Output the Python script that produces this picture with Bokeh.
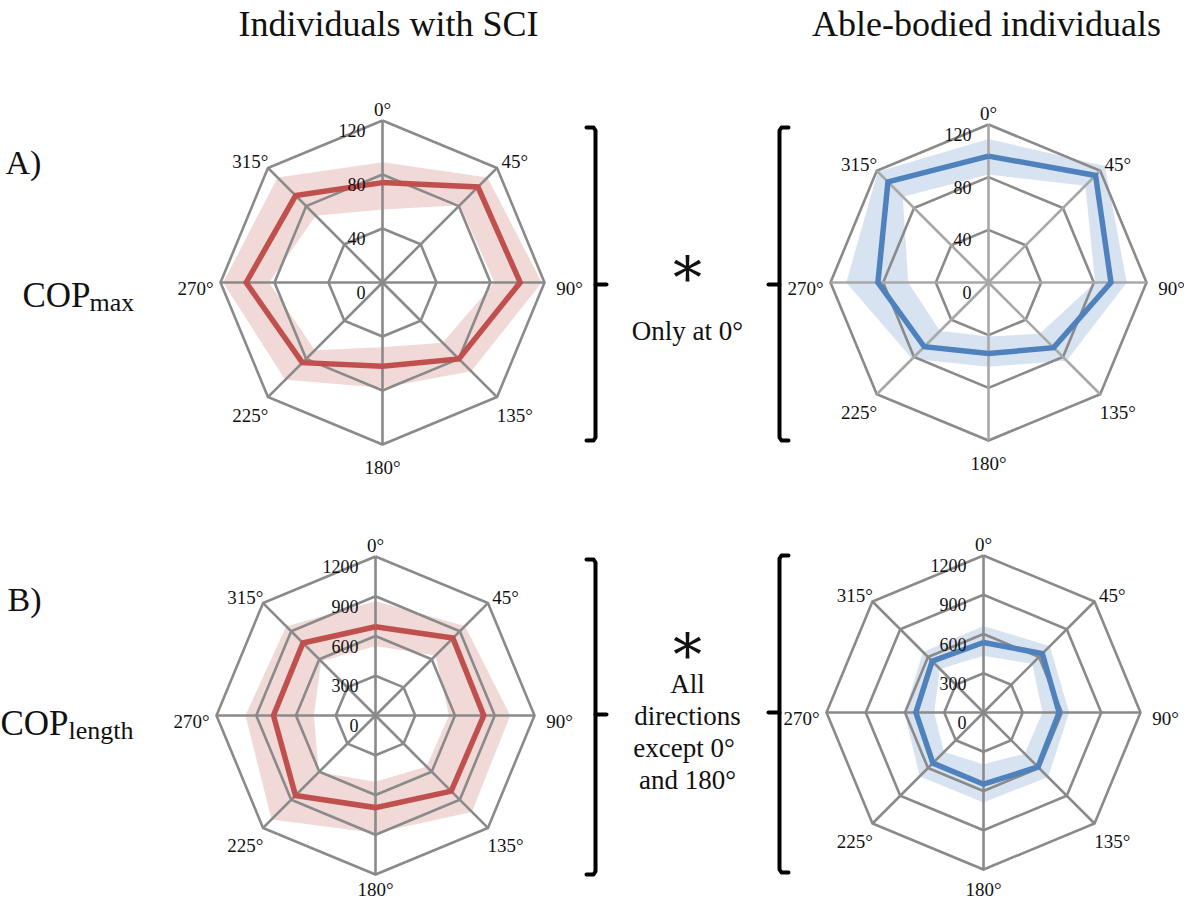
import math
from bokeh.plotting import figure
from bokeh.models import Range1d
from bokeh.core.properties import value
from bokeh.embed import file_html
from bokeh.resources import INLINE

# ---------------- data ----------------
directions = ["0°", "45°", "90°", "135°", "180°", "225°", "270°", "315°"]
angles_deg = [0, 45, 90, 135, 180, 225, 270, 315]

ticks_max = [0, 40, 80, 120]
ticks_len = [0, 300, 600, 900, 1200]

sci_max_mean = [74, 100, 102, 80, 62, 84, 101, 91]
sci_max_upper = [89, 110, 118, 93, 78, 102, 118, 110]
sci_max_lower = [54, 81, 83, 63, 48, 71, 84, 70]

ab_max_mean = [96, 115, 93, 70, 54, 69, 84, 108]
ab_max_upper = [109, 125, 105, 84, 64, 82, 108, 119]
ab_max_lower = [82, 104, 81, 55, 41, 52, 61, 92]

sci_len_mean = [670, 826, 817, 808, 695, 854, 770, 774]
sci_len_upper = [862, 955, 1017, 1029, 887, 1109, 982, 952]
sci_len_lower = [525, 641, 555, 545, 500, 606, 465, 580]

ab_len_mean = [535, 636, 578, 589, 548, 547, 517, 555]
ab_len_upper = [662, 717, 655, 697, 688, 690, 604, 654]
ab_len_lower = [433, 526, 451, 445, 395, 427, 377, 471]

col_titles = ["Individuals with SCI", "Able-bodied individuals"]
row_letters = ["A)", "B)"]
row_main = ["COP", "COP"]
row_sub = ["max", "length"]
sig_notes = [["Only at 0°"], ["All", "directions", "except  0°", "and 180°"]]

# ---------------- styles ----------------
RED = "#C0504D"
BLUE = "#4F81BD"
GRID = "#8a8a8a"
FONT = value("Liberation Serif")
TXT = "#111111"
MID = 6  # visual correction for middle baseline

W, H = 1184, 905
p = figure(width=W, height=H, output_backend="svg", toolbar_location=None,
           x_range=Range1d(8, 8 + W), y_range=Range1d(8 + H, 8),
           min_border=0)
p.axis.visible = False
p.grid.visible = False
p.outline_line_color = None
p.background_fill_color = "white"


def pt(cx, cy, r, a):
    t = math.radians(a)
    return cx + r * math.sin(t), cy - r * math.cos(t)


def radar(cx, cy, R, ticks, mean, upper, lower, color, spoke_color):
    vmax = ticks[-1]
    sc = R / vmax
    # band (mean +- sd) as polygon with hole
    ox, oy, ix, iy = [], [], [], []
    for a, u, l in zip(angles_deg, upper, lower):
        x, y = pt(cx, cy, u * sc, a); ox.append(x); oy.append(y)
        x, y = pt(cx, cy, l * sc, a); ix.append(x); iy.append(y)
    p.multi_polygons(xs=[[[ox, ix]]], ys=[[[oy, iy]]], fill_color=color,
                     fill_alpha=0.22, line_color=None)
    # rings
    rx, ry = [], []
    for t in ticks[1:]:
        xs, ys = [], []
        for a in angles_deg + [angles_deg[0]]:
            x, y = pt(cx, cy, t * sc, a); xs.append(x); ys.append(y)
        rx.append(xs); ry.append(ys)
    p.multi_line(rx, ry, line_color=GRID, line_width=2.6, line_join="miter")
    # spokes
    sx, sy = [], []
    for a in angles_deg:
        x, y = pt(cx, cy, R, a)
        sx.append([cx, x]); sy.append([cy, y])
    p.multi_line(sx, sy, line_color=spoke_color, line_width=2.6)
    # mean line
    mx, my = [], []
    for a, m in zip(angles_deg + [angles_deg[0]], mean + [mean[0]]):
        x, y = pt(cx, cy, m * sc, a); mx.append(x); my.append(y)
    p.line(mx, my, line_color=color, line_width=5.5, line_join="miter")
    # tick labels
    p.text(x=[cx - 17] * len(ticks), y=[cy - t * sc + 4 + MID for t in ticks],
           text=[str(t) for t in ticks], text_align="right",
           text_baseline="middle", text_font=FONT, text_font_size="18px",
           text_color=TXT)
    # direction labels
    lx, ly = [], []
    for a in angles_deg:
        t = math.radians(a)
        lx.append(cx + (R + 25) * math.sin(t))
        ly.append(min(cy - (R + 17) * math.cos(t) + MID, 897))
    p.text(x=lx, y=ly, text=directions, text_align="center",
           text_baseline="middle", text_font=FONT, text_font_size="19px",
           text_color=TXT)


radar(390, 290, 162, ticks_max, sci_max_mean, sci_max_upper, sci_max_lower, RED, GRID)
radar(996, 290, 158, ticks_max, ab_max_mean, ab_max_upper, ab_max_lower, BLUE, "#a8a8a8")
radar(383, 723, 159, ticks_len, sci_len_mean, sci_len_upper, sci_len_lower, RED, GRID)
radar(991, 720, 157, ticks_len, ab_len_mean, ab_len_upper, ab_len_lower, BLUE, GRID)

# column titles
p.text(x=[396, 994], y=[31, 31], text=col_titles, text_align="center",
       text_baseline="alphabetic", text_font=FONT, text_font_size="36px",
       text_color=TXT)
# row letters
p.text(x=[13, 15], y=[170, 607], text=row_letters, text_align="left",
       text_baseline="alphabetic", text_font=FONT, text_font_size="34px",
       text_color=TXT)
# row names with subscripts
p.text(x=[30, 8], y=[303, 731], text=row_main, text_align="left",
       text_baseline="alphabetic", text_font=FONT, text_font_size="35px",
       text_color=TXT)
p.text(x=[97, 76], y=[310, 738], text=row_sub, text_align="left",
       text_baseline="alphabetic", text_font=FONT, text_font_size="26px",
       text_color=TXT)


def bracket(x, y0, y1, ym, side):
    # side=+1: "]" (hooks left, tick right); -1: "[" mirrored
    h = 9 * side
    p.line([x - h, x - 2 * side, x, x, x - 2 * side, x - h],
           [y0, y0, y0 + 3, y1 - 3, y1, y1],
           line_color="black", line_width=4, line_join="round", line_cap="round")
    p.line([x, x + 11 * side], [ym, ym], line_color="black", line_width=4,
           line_cap="round")


bracket(603, 135, 448, 292, 1)
bracket(787, 135, 448, 292, -1)
bracket(603, 567, 882, 722, 1)
bracket(787, 563, 880, 720, -1)

# significance notes
p.text(x=[695, 695], y=[285, 662], text=["*", "*"], text_align="center",
       text_baseline="middle", text_font=value("DejaVu Serif"),
       text_font_size="58px", text_color=TXT)
p.text(x=[695], y=[332 + MID], text=sig_notes[0], text_align="center",
       text_baseline="middle", text_font=FONT, text_font_size="27px",
       text_color=TXT)
p.text(x=[695] * 4, y=[685 + MID, 717 + MID, 749 + MID, 781 + MID],
       text=sig_notes[1], text_align="center", text_baseline="middle",
       text_font=FONT, text_font_size="27px", text_color=TXT)

open("out.html", "w").write(file_html(p, INLINE))
